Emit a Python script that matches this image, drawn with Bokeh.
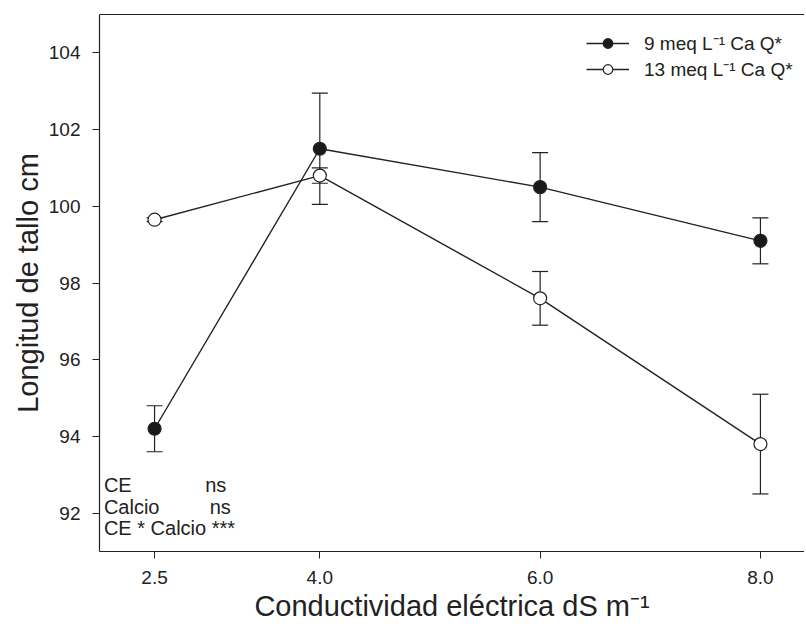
from bokeh.plotting import figure
from bokeh.models import (Range1d, FixedTicker, Whisker, TeeHead, ColumnDataSource,
                          Legend, LegendItem, Label, LinearAxis)
from bokeh.embed import file_html
from bokeh.resources import INLINE

# ---- data ----
ce = [2.5, 4.0, 6.0, 8.0]
ce_tick_labels = ["2.5", "4.0", "6.0", "8.0"]
ca9_mean = [94.2, 101.5, 100.5, 99.1]
ca9_err = [0.6, 1.45, 0.9, 0.6]
ca13_mean = [99.65, 100.8, 97.6, 93.8]
ca13_err = [0.05, 0.2, 0.7, 1.3]
y_ticks = [92, 94, 96, 98, 100, 102, 104]
series_labels = ["9 meq L\u207b\u00b9 Ca Q*", "13 meq L\u207b\u00b9 Ca Q*"]
stats_names = ["CE", "Calcio", "CE * Calcio ***"]
stats_sig = ["ns", "ns", ""]

FONT = "Liberation Sans"
INK = "#222222"

p = figure(width=804, height=632, output_backend="svg", toolbar_location=None,
           x_range=Range1d(2.0, 8.4), y_range=Range1d(91.0, 105.0),
           min_border_left=99, min_border_right=0, min_border_top=14, min_border_bottom=81)

p.background_fill_color = "white"
p.border_fill_color = "white"
p.outline_line_color = None
p.xgrid.visible = False
p.ygrid.visible = False

xax = p.below[0]
yax = p.left[0]

for ax in (xax, yax):
    ax.axis_line_color = INK
    ax.axis_line_width = 1.2
    ax.major_tick_line_color = INK
    ax.major_tick_in = 0
    ax.major_tick_out = 7
    ax.minor_tick_line_color = None
    ax.major_label_text_font = FONT
    ax.major_label_text_font_size = "19px"
    ax.major_label_text_color = INK
    ax.axis_label_text_font = FONT
    ax.axis_label_text_font_style = "normal"
    ax.axis_label_text_font_size = "29px"
    ax.axis_label_text_color = INK

xax.ticker = FixedTicker(ticks=ce)
xax.major_label_overrides = {v: s for v, s in zip(ce, ce_tick_labels)}
xax.major_label_standoff = 12
xax.axis_label_standoff = 3
xax.axis_label = "Conductividad eléctrica dS m\u207b\u00b9"

yax.ticker = FixedTicker(ticks=y_ticks)
yax.major_label_standoff = 12
yax.axis_label_standoff = 2
yax.axis_label = "Longitud de tallo cm"

# top border line (right side of the frame is cut off in the original)
top = LinearAxis(ticker=FixedTicker(ticks=[]), major_label_text_font_size="0px",
                 major_tick_line_color=None, minor_tick_line_color=None,
                 axis_line_color=INK, axis_line_width=1.2)
p.add_layout(top, "above")

def add_series(means, errs, fill):
    src = ColumnDataSource(dict(
        x=ce, y=means,
        upper=[m + e for m, e in zip(means, errs)],
        lower=[m - e for m, e in zip(means, errs)]))
    w = Whisker(base="x", upper="upper", lower="lower", source=src,
                line_color=INK, line_width=1.2,
                upper_head=TeeHead(size=16, line_color=INK, line_width=1.2),
                lower_head=TeeHead(size=16, line_color=INK, line_width=1.2))
    p.add_layout(w)
    lr = p.line("x", "y", source=src, line_color=INK, line_width=1.4)
    sr = p.scatter("x", "y", source=src, size=13, marker="circle",
                   fill_color=fill, line_color=INK, line_width=1.2)
    return lr, sr

l9, s9 = add_series(ca9_mean, ca9_err, "#1a1a1a")
l13, s13 = add_series(ca13_mean, ca13_err, "white")

legend = Legend(items=[LegendItem(label=series_labels[0], renderers=[l9, s9]),
                       LegendItem(label=series_labels[1], renderers=[l13, s13])],
                location=(487, 469), padding=5, spacing=0, margin=0,
                glyph_width=43, glyph_height=24, label_height=24, label_standoff=15,
                label_text_font=FONT, label_text_font_size="19px",
                label_text_color=INK,
                border_line_color=None, background_fill_alpha=0)
p.add_layout(legend)

stats_y = [92.73, 92.16, 91.61]
for name, yy in zip(stats_names, stats_y):
    p.add_layout(Label(x=2.04, y=yy, text=name, text_font=FONT, text_font_size="20px",
                       text_baseline="middle", text_color=INK))
sig_x = [2.96, 3.0]
for sig, xx, yy in zip(stats_sig[:2], sig_x, stats_y[:2]):
    p.add_layout(Label(x=xx, y=yy, text=sig, text_font=FONT, text_font_size="20px",
                       text_baseline="middle", text_color=INK))

open("out.html", "w").write(file_html(p, INLINE))
